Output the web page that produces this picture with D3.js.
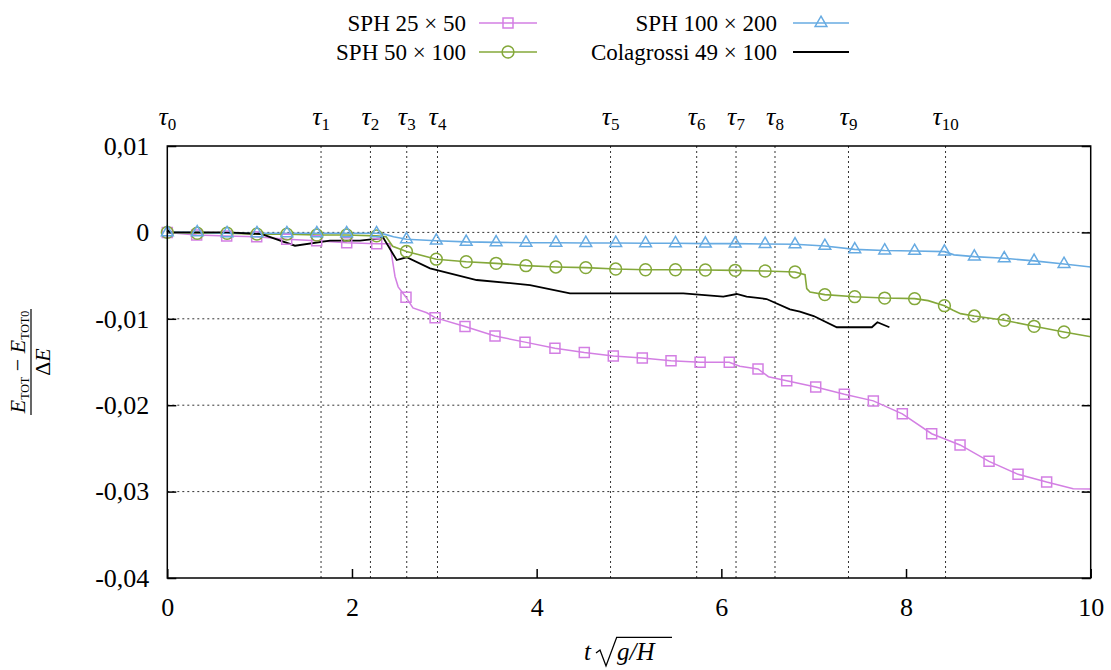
<!DOCTYPE html>
<html><head><meta charset="utf-8">
<script src="https://cdn.jsdelivr.net/npm/d3@7"></script>
<style>body{margin:0;background:#fff}svg{display:block}</style>
</head><body>
<svg id="c" width="1111" height="670"></svg>
<script>
// ---------- data ----------
const xTicks = [0, 2, 4, 6, 8, 10];
const yTicks = [0.01, 0, -0.01, -0.02, -0.03, -0.04];
const yTickLabels = ["0,01", "0", "-0,01", "-0,02", "-0,03", "-0,04"];
const tauVals = [0, 1.665, 2.2, 2.593, 2.926, 4.80, 5.733, 6.159, 6.581, 7.377, 8.428];
const tauLabels = ["0","1","2","3","4","5","6","7","8","9","10"];

// [t, value, marker(1/0)]
const sph25 = [
 [0,0,1],[0.318,-0.0003,1],[0.643,-0.00042,1],[0.968,-0.0005,1],[1.293,-0.0008,1],[1.618,-0.00096,1],
 [1.943,-0.0012,1],[2.268,-0.0013,1],[2.41,-0.0013,0],[2.466,-0.0051,0],[2.50,-0.0063,0],[2.585,-0.0075,1],
 [2.66,-0.00875,0],[2.81,-0.0093,0],[2.90,-0.00987,1],[3.224,-0.0109,1],[3.549,-0.012,1],[3.874,-0.0127,1],
 [4.198,-0.0134,1],[4.516,-0.0139,1],[4.83,-0.0143,1],[5.144,-0.01454,1],[5.455,-0.01485,1],[5.77,-0.01503,1],
 [6.086,-0.01503,1],[6.2,-0.0155,0],[6.397,-0.0158,1],[6.51,-0.0167,0],[6.708,-0.01716,1],[7.022,-0.01789,1],
 [7.332,-0.01874,1],[7.646,-0.0195,1],[7.96,-0.021,1],[8.278,-0.0233,1],[8.585,-0.0246,1],[8.899,-0.0265,1],
 [9.213,-0.028,1],[9.523,-0.0289,1],[9.81,-0.02966,0],[10,-0.0297,0]
];
const sph50 = [
 [0,0,1],[0.324,-0.0001,1],[0.647,-0.0001,1],[0.971,-0.0002,1],[1.295,-0.0002,1],[1.619,-0.0003,1],
 [1.942,-0.0003,1],[2.266,-0.0004,1],[2.37,-0.0005,0],[2.44,-0.0016,0],[2.59,-0.0022,1],[2.913,-0.0031,1],
 [3.237,-0.0034,1],[3.561,-0.00358,1],[3.884,-0.00385,1],[4.208,-0.004,1],[4.532,-0.00408,1],[4.856,-0.00424,1],
 [5.179,-0.00432,1],[5.503,-0.00432,1],[5.827,-0.00435,1],[6.15,-0.00439,1],[6.474,-0.00447,1],[6.798,-0.00458,1],
 [6.906,-0.0049,0],[6.925,-0.0065,0],[6.96,-0.0069,0],[7.121,-0.0072,1],[7.445,-0.00744,1],[7.769,-0.0076,1],
 [8.093,-0.00767,1],[8.24,-0.0079,0],[8.416,-0.00848,1],[8.51,-0.009,0],[8.59,-0.0094,0],[8.74,-0.00968,1],
 [9.064,-0.01017,1],[9.387,-0.01087,1],[9.711,-0.01153,1],[10,-0.01207,0]
];
const sph100 = [
 [0,0,1],[0.324,0,1],[0.647,-0.0001,1],[0.971,-0.0001,1],[1.295,-0.0001,1],[1.619,-0.0001,1],
 [1.942,-0.0001,1],[2.266,-0.0001,1],[2.35,-0.0002,0],[2.45,-0.0005,0],[2.59,-0.0008,1],[2.913,-0.00096,1],
 [3.237,-0.0011,1],[3.561,-0.00115,1],[3.884,-0.0012,1],[4.208,-0.0012,1],[4.532,-0.00123,1],[4.856,-0.00123,1],
 [5.179,-0.00126,1],[5.503,-0.00126,1],[5.827,-0.0013,1],[6.15,-0.0013,1],[6.474,-0.00134,1],[6.798,-0.00138,1],
 [7.121,-0.00157,1],[7.445,-0.00196,1],[7.769,-0.0021,1],[8.093,-0.00215,1],[8.416,-0.00223,1],[8.52,-0.0026,0],
 [8.74,-0.0028,1],[9.064,-0.003,1],[9.387,-0.0033,1],[9.711,-0.00366,1],[10,-0.004,0]
];
const colagrossi = [
 [0,0],[0.015,0.0002],[0.03,0],[0.644,0],[1.023,-0.00019],[1.383,-0.00154],[1.762,-0.00096],[2.087,-0.00096],
 [2.303,-0.00068],[2.336,-0.00057],[2.484,-0.0032],[2.592,-0.00288],[2.845,-0.00416],[3.35,-0.00551],
 [3.928,-0.00609],[4.361,-0.00705],[5.588,-0.00705],[6.021,-0.00744],[6.166,-0.00713],[6.274,-0.00744],
 [6.49,-0.00771],[6.743,-0.0089],[6.851,-0.00918],[7.0,-0.00968],[7.25,-0.01098],[7.63,-0.01098],
 [7.69,-0.0104],[7.82,-0.01098]
];

const seriesNames = ["SPH 25 \u00d7 50", "SPH 50 \u00d7 100", "SPH 100 \u00d7 200", "Colagrossi 49 \u00d7 100"];

// ---------- drawing ----------
const svg = d3.select("#c");
const L = 167.3, R = 1090.7, T = 146, B = 578;
const x = d3.scaleLinear().domain([0, 10]).range([L, R]);
const y = d3.scaleLinear().domain([-0.04, 0.01]).range([B, T]);
const serif = "'Liberation Serif', 'Times New Roman', serif";

const colPink = "#d37fe3", colGreen = "#84a83a", colBlue = "#67abe2";

// grid
const grid = svg.append("g").attr("stroke", "#333").attr("stroke-width", 1).attr("stroke-dasharray", "2,3");
yTicks.filter(v => v < 0.005 && v > -0.035).forEach(v => {
  grid.append("line").attr("x1", L).attr("x2", R).attr("y1", y(v)).attr("y2", y(v));
});
tauVals.slice(1).forEach(t => {
  grid.append("line").attr("x1", x(t)).attr("x2", x(t)).attr("y1", T).attr("y2", B);
});

// y axis ticks (left and right, inward)
const yAxisL = d3.axisLeft(y).tickValues(yTicks).tickSize(-9).tickFormat((d, i) => yTickLabels[i]).tickPadding(18);
const gy = svg.append("g").attr("transform", `translate(${L},0)`).call(yAxisL);
gy.select(".domain").remove();
gy.selectAll("text").attr("font-family", serif).attr("font-size", 26).attr("fill", "#000");
gy.selectAll("line").attr("stroke", "#000").attr("stroke-width", 1.5);
const gyR = svg.append("g").attr("transform", `translate(${R},0)`).call(d3.axisRight(y).tickValues(yTicks).tickSize(-9).tickFormat(""));
gyR.select(".domain").remove();
gyR.selectAll("line").attr("stroke", "#000").attr("stroke-width", 1.5);

// x axis
const gx = svg.append("g").attr("transform", `translate(0,${B})`).call(d3.axisBottom(x).tickValues(xTicks).tickSize(-9).tickPadding(20).tickFormat(d3.format("d")));
gx.select(".domain").remove();
gx.selectAll("text").attr("font-family", serif).attr("font-size", 26).attr("fill", "#000");
gx.selectAll("line").attr("stroke", "#000").attr("stroke-width", 1.5);

// tau labels
const tauG = svg.append("g").attr("font-family", serif).attr("fill", "#000");
tauVals.forEach((t, i) => {
  const tx = tauG.append("text").attr("x", x(t)).attr("y", 125).attr("text-anchor", "middle");
  tx.append("tspan").attr("font-style", "italic").attr("font-size", 26).text("\u03c4");
  tx.append("tspan").attr("font-size", 17).attr("dy", 5).text(tauLabels[i]);
});

// lines
const line = d3.line().x(d => x(d[0])).y(d => y(d[1]));
const plotG = svg.append("g");
plotG.append("path").datum(sph25).attr("d", line).attr("fill", "none").attr("stroke", colPink).attr("stroke-width", 1.5);
plotG.append("path").datum(sph50).attr("d", line).attr("fill", "none").attr("stroke", colGreen).attr("stroke-width", 1.6);
plotG.append("path").datum(sph100).attr("d", line).attr("fill", "none").attr("stroke", colBlue).attr("stroke-width", 1.6);
plotG.append("path").datum(colagrossi).attr("d", line).attr("fill", "none").attr("stroke", "#000").attr("stroke-width", 1.8);

const sq = d3.symbol().type(d3.symbolSquare).size(100);
const ci = d3.symbol().type(d3.symbolCircle).size(110);
const tr = d3.symbol().type(d3.symbolTriangle).size(60);
function markers(data, sym, col, dyOff) {
  plotG.append("g").selectAll("path").data(data.filter(d => d[2])).join("path")
    .attr("d", sym).attr("transform", d => `translate(${x(d[0])},${y(d[1]) + dyOff})`)
    .attr("fill", "none").attr("stroke", col).attr("stroke-width", 1.5);
}
markers(sph25, sq, colPink, 0);
markers(sph50, ci, colGreen, 0);
markers(sph100, tr, colBlue, 0);

// border
svg.append("rect").attr("x", L).attr("y", T).attr("width", R - L).attr("height", B - T)
  .attr("fill", "none").attr("stroke", "#000").attr("stroke-width", 1.5);

// legend
const leg = svg.append("g").attr("font-family", serif).attr("font-size", 23);
const legPos = [[466, 479, 537, 23], [466, 479, 537, 52], [777, 793, 849, 23], [777, 793, 849, 52]];
const legCols = [colPink, colGreen, colBlue, "#000"];
const legSyms = [sq, ci, tr, null];
seriesNames.forEach((n, i) => {
  const p = legPos[i];
  leg.append("text").attr("x", p[0]).attr("y", p[3] + 8).attr("text-anchor", "end").text(n);
  leg.append("line").attr("x1", p[1]).attr("x2", p[2]).attr("y1", p[3]).attr("y2", p[3])
    .attr("stroke", legCols[i]).attr("stroke-width", i === 3 ? 1.8 : 1.6);
  if (legSyms[i]) leg.append("path").attr("d", legSyms[i]).attr("transform", `translate(${(p[1] + p[2]) / 2},${p[3]})`)
    .attr("fill", "none").attr("stroke", legCols[i]).attr("stroke-width", 1.5);
});

// y label (rotated fraction)
const yl = svg.append("g").attr("transform", "translate(31,362) rotate(-90)").attr("font-family", serif);
const num = yl.append("text").attr("x", 0).attr("y", -6).attr("text-anchor", "middle").attr("font-size", 22);
num.append("tspan").attr("font-style", "italic").text("E");
num.append("tspan").attr("font-size", 12).attr("dy", 4).text("TOT");
num.append("tspan").attr("dy", -4).text(" \u2212 ");
num.append("tspan").attr("font-style", "italic").text("E");
num.append("tspan").attr("font-size", 12).attr("dy", 4).text("TOT0");
yl.append("line").attr("x1", -53).attr("x2", 53).attr("y1", 0).attr("y2", 0).attr("stroke", "#000").attr("stroke-width", 1.2);
const den = yl.append("text").attr("x", 0).attr("y", 19).attr("text-anchor", "middle").attr("font-size", 22);
den.append("tspan").text("\u0394");
den.append("tspan").attr("font-style", "italic").text("E");

// x label  t sqrt(g/H)
const xl = svg.append("g").attr("font-family", serif).attr("font-size", 25).attr("font-style", "italic");
xl.append("text").attr("x", 584).attr("y", 660).text("t");
xl.append("text").attr("x", 617).attr("y", 660).text("g/H");
svg.append("path").attr("d", "M596,653 L600,650 L606,666 L616.7,637.3 L672,637.3")
  .attr("fill", "none").attr("stroke", "#000").attr("stroke-width", 1.3);
</script>
</body></html>
